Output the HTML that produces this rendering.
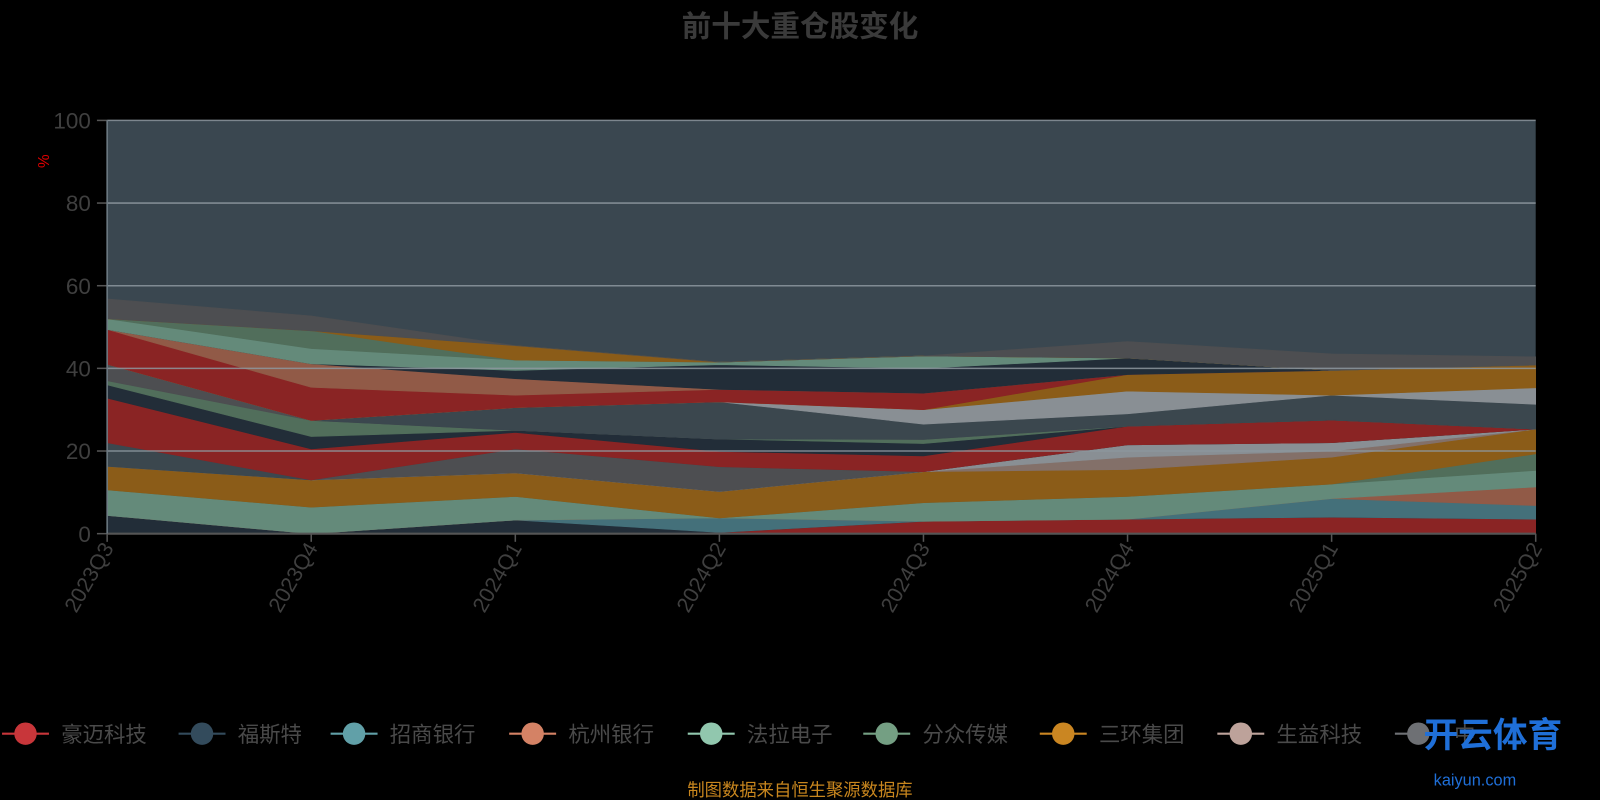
<!DOCTYPE html>
<html><head><meta charset="utf-8">
<style>
html,body{margin:0;padding:0;background:#000;width:1600px;height:800px;overflow:hidden;font-family:"Liberation Sans","Noto Sans CJK SC",sans-serif;}
</style></head>
<body>
<svg id="chart" width="1600" height="800" xmlns="http://www.w3.org/2000/svg" style="position:absolute;left:0;top:0">
<g transform="scale(1.0204)">
<text x="784" y="36" text-anchor="middle" font-size="29" font-weight="bold" fill="#3a3a3a" font-family="Liberation Sans, Noto Sans CJK SC, sans-serif">前十大重仓股变化</text>
<rect x="105" y="118" width="1400" height="405" fill="#3a4750"/>
<g id="areas"></g>
<g id="grid"></g>
<g id="xaxis"></g>
<g id="yaxis"></g>
<text transform="translate(48,158) rotate(-90)" text-anchor="middle" font-size="15" fill="#e00000">%</text>
<g id="legend"></g>
<text x="1395" y="732" font-size="34" font-weight="bold" fill="#1f6fd8" font-family="Liberation Sans, Noto Sans CJK SC, sans-serif">开云体育</text>
<text x="1405" y="770" font-size="16" fill="#1f6fd8">kaiyun.com</text>
<text x="784" y="780" text-anchor="middle" font-size="17" fill="#c8861e" font-family="Liberation Sans, Noto Sans CJK SC, sans-serif">制图数据来自恒生聚源数据库</text>
</g>
</svg>
<script>
const categories = ["2023Q3","2023Q4","2024Q1","2024Q2","2024Q3","2024Q4","2025Q1","2025Q2"];
const yTicks = [0,20,40,60,80,100];
const legendNames = ["豪迈科技","福斯特","招商银行","杭州银行","法拉电子","分众传媒","三环集团","生益科技","中"];
const legendColors = ["#c8363a","#334b5c","#61a0a8","#d48265","#91c7ae","#749f83","#ca8622","#bda29a","#6e7074"];
const s01 = [0,0,0,0.3,3,3.5,4,3.5];
const s02 = [4.4,0,3.3,0,0,0,0,0];
const s03 = [0,0,0,3.5,0,0,4.5,3.3];
const s04 = [0,0,0,0,0,0,0,4.5];
const s05 = [6.2,6.4,5.7,0,4.5,5.5,3.5,4];
const s06 = [0,0,0,0,0,0,0,4];
const s07 = [5.7,6.6,5.7,6.4,7.5,6.5,6.5,6];
const s08 = [0,0,0,0,0,3,1.5,0];
const s09 = [0,0,0,0,0,3,2,0];
const s10 = [0,0,5.8,6,0,0,0,0];
const s11 = [5.7,0,0,0,0,0,0,0];
const s12 = [10.8,7.5,4,3.7,3.8,4.5,5.5,0];
const s13 = [3.2,3,0.5,3,3,0,0,0];
const s14 = [1,3.9,0,0,1,0,0,0];
const s15 = [4,0,0,0,0,0,0,0];
const s16 = [0,0,5.5,9,3.7,3,6,6];
const s17 = [0,0,0,0,3.5,5.5,0,4];
const s18 = [0,0,0,0,0,4,6,5.5];
const s19 = [8.4,8,3,3,4,0,0,0];
const s20 = [0,5.7,4,0,0,0,0,0];
const s21 = [0,0,2,6,6,4,0,0];
const s22 = [2.6,3.7,2.5,0.6,3,0,0,0];
const s23 = [0,4.3,0,0,0,0,0,0];
const s24 = [0,0,3.5,0,0,0,0,0];
const s25 = [4.8,3.6,0,0,0,4,4,2];
const series = [s01,s02,s03,s04,s05,s06,s07,s08,s09,s10,s11,s12,s13,s14,s15,s16,s17,s18,s19,s20,s21,s22,s23,s24,s25];
const seriesColors = ["#8a2424","#222d38","#44707a","#915a47","#648a7a","#516e5b","#8b5c18","#837069","#898f94","#4d4e51","#3b474e","#8a2424","#222d38","#516e5b","#4d4e51","#3b474e","#898f94","#8b5c18","#8a2424","#915a47","#222d38","#648a7a","#516e5b","#8b5c18","#4d4e51"];

const NS="http://www.w3.org/2000/svg";
const X0=105,X1=1505,Y0=523,Y1=118;
function xScale(i){return X0+i*(X1-X0)/(categories.length-1);}
function yScale(v){return Y0-(v/100)*(Y0-Y1);}
function mk(tag,attrs,parent){const e=document.createElementNS(NS,tag);for(const k in attrs)e.setAttribute(k,attrs[k]);parent.appendChild(e);return e;}

const areas=document.getElementById('areas');
let base=categories.map(()=>0);
series.forEach((s,si)=>{
  const top=base.map((b,i)=>b+s[i]);
  let pts=top.map((v,i)=>xScale(i)+","+yScale(v));
  for(let i=categories.length-1;i>=0;i--)pts.push(xScale(i)+","+yScale(base[i]));
  const p=mk('polygon',{points:pts.join(' '),fill:seriesColors[si],stroke:seriesColors[si],'stroke-width':0.6},areas);
  
  
  base=top;
});

const grid=document.getElementById('grid');
const yaxis=document.getElementById('yaxis');
yTicks.forEach(t=>{
  const y=yScale(t);
  if(t>0){const l=mk('line',{x1:X0,x2:X1,y1:y,y2:y,stroke:'#8d989f','stroke-width':1.5,'stroke-opacity':0.85},grid);
  
  }
  mk('line',{x1:X0-10,x2:X0,y1:y,y2:y,stroke:'#555','stroke-width':1.5},yaxis);
  const tx=mk('text',{x:X0-16,y:y+8,'text-anchor':'end','font-size':22,fill:'#3f3f3f'},yaxis);
  tx.textContent=t;
  
  
});
mk('line',{x1:X0,x2:X0,y1:Y1,y2:Y0,stroke:'#6e7b84','stroke-width':1.5},yaxis);

const xaxis=document.getElementById('xaxis');
mk('line',{x1:X0,x2:X1,y1:Y0,y2:Y0,stroke:'#555','stroke-width':2},xaxis);
categories.forEach((c,i)=>{
  const x=xScale(i);
  mk('line',{x1:x,x2:x,y1:Y0,y2:Y0+8,stroke:'#555','stroke-width':1.5},xaxis);
  const t=mk('text',{x:0,y:0,'text-anchor':'end','font-size':21,fill:'#3f3f3f',transform:`translate(${x+7},${Y0+14}) rotate(-60)`},xaxis);
  t.textContent=c;
  
  
});

const legend=document.getElementById('legend');
const lx=[25,198,347,522,697,869,1042,1216,1390];
legendNames.forEach((n,i)=>{
  const g=mk('g',{},legend);
  
  
  mk('line',{x1:lx[i]-23,x2:lx[i]+23,y1:719,y2:719,stroke:legendColors[i],'stroke-width':2},g);
  mk('circle',{cx:lx[i],cy:719,r:11,fill:legendColors[i]},g);
  const t=mk('text',{x:lx[i]+35,y:727,'font-size':21,fill:'#4a4a4a'},g);
  t.textContent=n;
});
</script>
</body></html>
